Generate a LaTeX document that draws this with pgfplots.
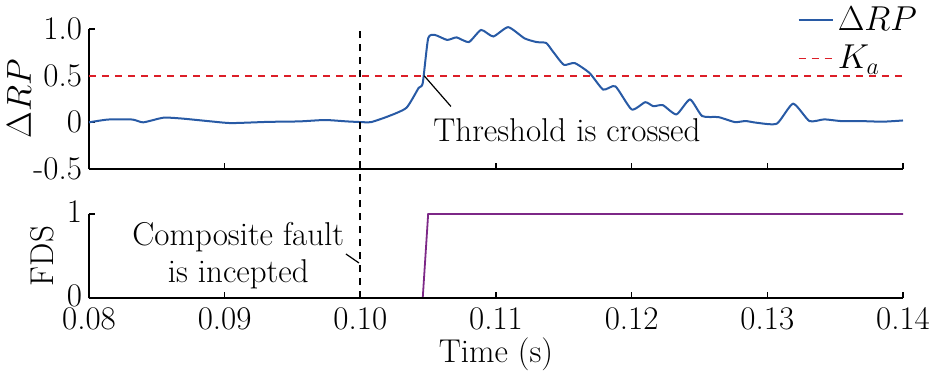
\documentclass[border=0pt]{standalone}
\usepackage{pgfplots}
\usepackage{pgfplotstable}
\pgfplotsset{compat=1.18}
\definecolor{rpblue}{RGB}{40,90,165}
\definecolor{kared}{RGB}{220,30,40}
\definecolor{fdspurple}{RGB}{125,40,135}

\pgfplotstableread{
x y
0.0800 0.000
0.0814 0.030
0.0832 0.030
0.0840 0.000
0.0855 0.050
0.0869 0.040
0.0890 0.010
0.0905 -0.008
0.0932 0.005
0.0955 0.010
0.0974 0.025
0.0990 0.010
0.1000 0.003
0.1008 0.003
0.1021 0.067
0.1034 0.156
0.1043 0.369
0.1046 0.420
0.1050 0.900
0.1055 0.936
0.1064 0.883
0.1071 0.910
0.1080 0.860
0.1089 0.990
0.1098 0.920
0.1109 1.020
0.1121 0.900
0.1130 0.860
0.1137 0.850
0.1142 0.758
0.1150 0.617
0.1158 0.635
0.1169 0.528
0.1179 0.351
0.1188 0.386
0.1200 0.138
0.1210 0.216
0.1216 0.173
0.1223 0.184
0.1233 0.085
0.1243 0.245
0.1252 0.067
0.1264 0.056
0.1276 0.003
0.1284 0.014
0.1292 -0.004
0.1307 -0.014
0.1319 0.200
0.1331 0.014
0.1342 0.032
0.1354 0.014
0.1368 0.014
0.1385 0.007
0.1400 0.020
}\rpdata

\pgfplotstableread{
x y
0.0800 0
0.1046 0
0.1050 1
0.1400 1
}\fdsdata

\pgfplotsset{
  mystyle/.style={
    scale only axis,
    width=407pt,
    xmin=0.08, xmax=0.14,
    axis x line=bottom, axis y line=left,
    axis line style={-, line width=0.8pt, black},
    tick align=inside,
    major tick length=3pt,
    tick style={line width=0.8pt, black},
    xtick={0.08,0.09,0.10,0.11,0.12,0.13,0.14},
    clip=false,
  }
}

\begin{document}
\begin{tikzpicture}[font=\fontsize{16.5}{19.5}\selectfont]
\path[use as bounding box] (-44.5pt,-109pt) rectangle (421.5pt,84.5pt);
\begin{axis}[mystyle,
  name=top, at={(0,0)}, anchor=south west,
  height=70pt,
  ymin=-0.5, ymax=1.0,
  xticklabels={},
  ytick={-0.5,0,0.5,1},
  yticklabels={-0.5,0,0.5,1.0},
  ylabel={$\Delta RP$},
  every axis y label/.style={at={(axis description cs:-0.086,0.5)}, rotate=90, anchor=center},
  legend style={draw=none, fill=none, at={(1.03,1.22)}, anchor=north east,
    font=\fontsize{16.5}{19.5}\selectfont, row sep=2pt},
  legend cell align=left,
]
\addplot[rpblue, line width=1pt, smooth, tension=0.35] table[x=x,y=y]{\rpdata};
\addlegendentry{$\Delta RP$}
\addplot[color=kared, line width=0.9pt, dash pattern=on 3.5pt off 3pt] coordinates {(0.08,0.5) (0.14,0.5)};
\addlegendentry{$K_a$}
\draw[black, line width=0.6pt] (axis cs:0.1047,0.5) -- (axis cs:0.10668,0.17);
\node at (axis cs:0.11523,-0.085) {Threshold is crossed};
\end{axis}
\begin{axis}[mystyle,
  name=bot, at={(0,-64.5pt)}, anchor=south west,
  height=42pt,
  axis on top,
  ymin=0, ymax=1,
  ytick={0,1},
  yticklabels={0,1},
  yticklabel style={inner ysep=0pt, yshift=1pt},
  xticklabels={0.08,0.09,0.10,0.11,0.12,0.13,0.14},
  xticklabel style={yshift=-4pt, inner ysep=0.5pt},
  xlabel={Time (s)},
  ylabel={FDS},
  every axis y label/.style={at={(axis description cs:-0.058,0.5)}, rotate=90, anchor=center},
]
\addplot[fdspurple, line width=0.9pt] table[x=x,y=y]{\fdsdata};
\draw[black, line width=0.9pt, dash pattern=on 3.5pt off 3pt] (axis cs:0.1,0) -- (axis cs:0.1,3.2);
\draw[black, line width=0.6pt] (axis cs:0.09894,0.524) -- (axis cs:0.0999,0.417);
\node[align=center] at (axis cs:0.0910,0.5) {Composite fault\\[-1pt]is incepted};
\end{axis}
\end{tikzpicture}
\end{document}
